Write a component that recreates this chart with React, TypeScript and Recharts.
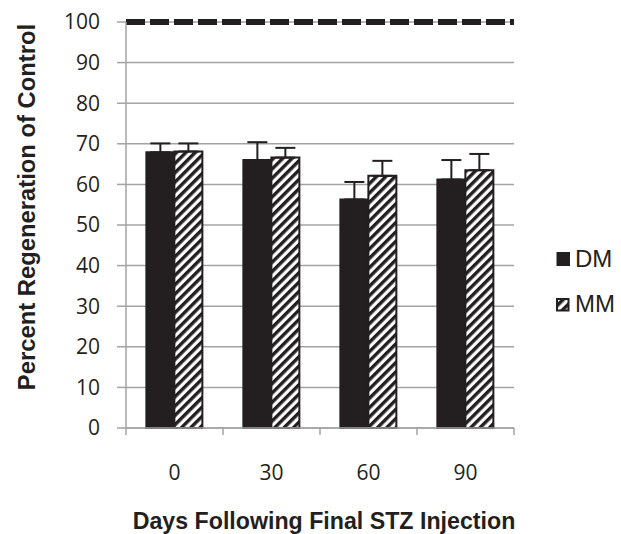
import React from "react"
import { BarChart, Bar, XAxis, YAxis, CartesianGrid, ReferenceLine, ErrorBar } from "recharts"

document.body.style.margin = "0"

// Days after final STZ injection
const categories = ["0", "30", "60", "90"]

// Percent regeneration of control, with upper error
const dmValues = [67.9, 66.0, 56.3, 61.2]
const dmErrors = [2.2, 4.4, 4.3, 4.8]
const mmValues = [68.1, 66.6, 62.1, 63.5]
const mmErrors = [2.0, 2.4, 3.7, 4.0]

const yTicks = [0, 10, 20, 30, 40, 50, 60, 70, 80, 90, 100]

const INK = "#231f20"
const GRID = "#a3a3a3"
const TEXT_FONT = "'Liberation Sans', Arial, sans-serif"
const NUM_FONT = "'Open Sans', 'Liberation Sans', sans-serif"

const data = categories.map((day, i) => ({
  day,
  dm: dmValues[i],
  dmErr: [0, dmErrors[i]],
  mm: mmValues[i],
  mmErr: [0, mmErrors[i]],
}))

const CHART_W = 621
const CHART_H = 534
const MARGIN = { top: 22, right: 107, left: 0, bottom: 0 }
const Y_AXIS_W = 126
const HALF_BAND = (CHART_W - MARGIN.right - Y_AXIS_W) / categories.length / 2

// x tick: label plus tick marks on the category boundaries
const DayTick = (props: any) => {
  const { x, y, payload, index } = props
  return (
    <g>
      <line x1={x - HALF_BAND} x2={x - HALF_BAND} y1={y - 7} y2={y} stroke={GRID} strokeWidth={1.5} />
      {index === categories.length - 1 && (
        <line x1={x + HALF_BAND} x2={x + HALF_BAND} y1={y - 7} y2={y} stroke={GRID} strokeWidth={1.5} />
      )}
      <text x={x} y={y + 45} textAnchor="middle" fontSize={21} fontFamily={NUM_FONT} fill={INK}>
        {payload.value}
      </text>
    </g>
  )
}

export default function App() {
  return (
    <div style={{ position: "relative", width: CHART_W, height: CHART_H }}>
      <BarChart width={CHART_W} height={CHART_H} data={data} margin={MARGIN} barCategoryGap="21%" barGap={0}>
        <defs>
          <pattern id="hatch" patternUnits="userSpaceOnUse" width="6.6" height="6.6" patternTransform="rotate(45)">
            <rect width="6.6" height="6.6" fill="#ffffff" />
            <rect width="3.4" height="6.6" fill={INK} />
          </pattern>
        </defs>
        <CartesianGrid vertical={false} stroke={GRID} strokeWidth={1.5} />
        <XAxis
          dataKey="day"
          height={106}
          tickLine={false}
          tickSize={7}
          tickMargin={0}
          axisLine={{ stroke: GRID, strokeWidth: 1.5 }}
          tick={<DayTick />}
          interval={0}
          label={{
            content: () => (
              <text x={324} y={529} textAnchor="middle" fontSize={23.2} fontWeight="bold" fontFamily={TEXT_FONT} fill={INK}>
                Days Following Final STZ Injection
              </text>
            ),
          }}
        />
        <YAxis
          width={Y_AXIS_W}
          domain={[0, 100]}
          ticks={yTicks}
          interval={0}
          tickSize={9}
          tickMargin={17}
          axisLine={{ stroke: GRID, strokeWidth: 1.5 }}
          tickLine={{ stroke: GRID, strokeWidth: 1.5 }}
          tick={{ fontSize: 21, fontFamily: NUM_FONT, fill: INK }}
          label={{
            content: () => (
              <text
                x={35}
                y={207}
                transform="rotate(-90 35 207)"
                textAnchor="middle"
                fontSize={23.8}
                fontWeight="bold"
                fontFamily={TEXT_FONT}
                fill={INK}
              >
                Percent Regeneration of Control
              </text>
            ),
          }}
        />
        <ReferenceLine y={100} stroke={INK} strokeWidth={6} strokeDasharray="19 5" />
        <Bar dataKey="dm" fill={INK} stroke={INK} strokeWidth={2} isAnimationActive={false}>
          <ErrorBar dataKey="dmErr" width={10} stroke={INK} strokeWidth={2} />
        </Bar>
        <Bar dataKey="mm" fill="url(#hatch)" stroke={INK} strokeWidth={2} isAnimationActive={false}>
          <ErrorBar dataKey="mmErr" width={10} stroke={INK} strokeWidth={2} />
        </Bar>
      </BarChart>
      <svg width={70} height={80} style={{ position: "absolute", left: 551, top: 240 }}>
        <defs>
          <pattern id="hatch-legend" patternUnits="userSpaceOnUse" width="7" height="7" patternTransform="rotate(45)">
            <rect width="7" height="7" fill="#ffffff" />
            <rect width="3.5" height="7" fill={INK} />
          </pattern>
        </defs>
        <rect x={5.5} y={12} width={13.5} height={14} fill={INK} />
        <text x={24} y={26.5} fontSize={24} fontFamily={TEXT_FONT} fill={INK}>
          DM
        </text>
        <rect x={6} y={59} width={11.5} height={11.5} fill="url(#hatch-legend)" stroke={INK} strokeWidth={2} />
        <text x={24} y={71.7} fontSize={24} fontFamily={TEXT_FONT} fill={INK}>
          MM
        </text>
      </svg>
    </div>
  )
}
